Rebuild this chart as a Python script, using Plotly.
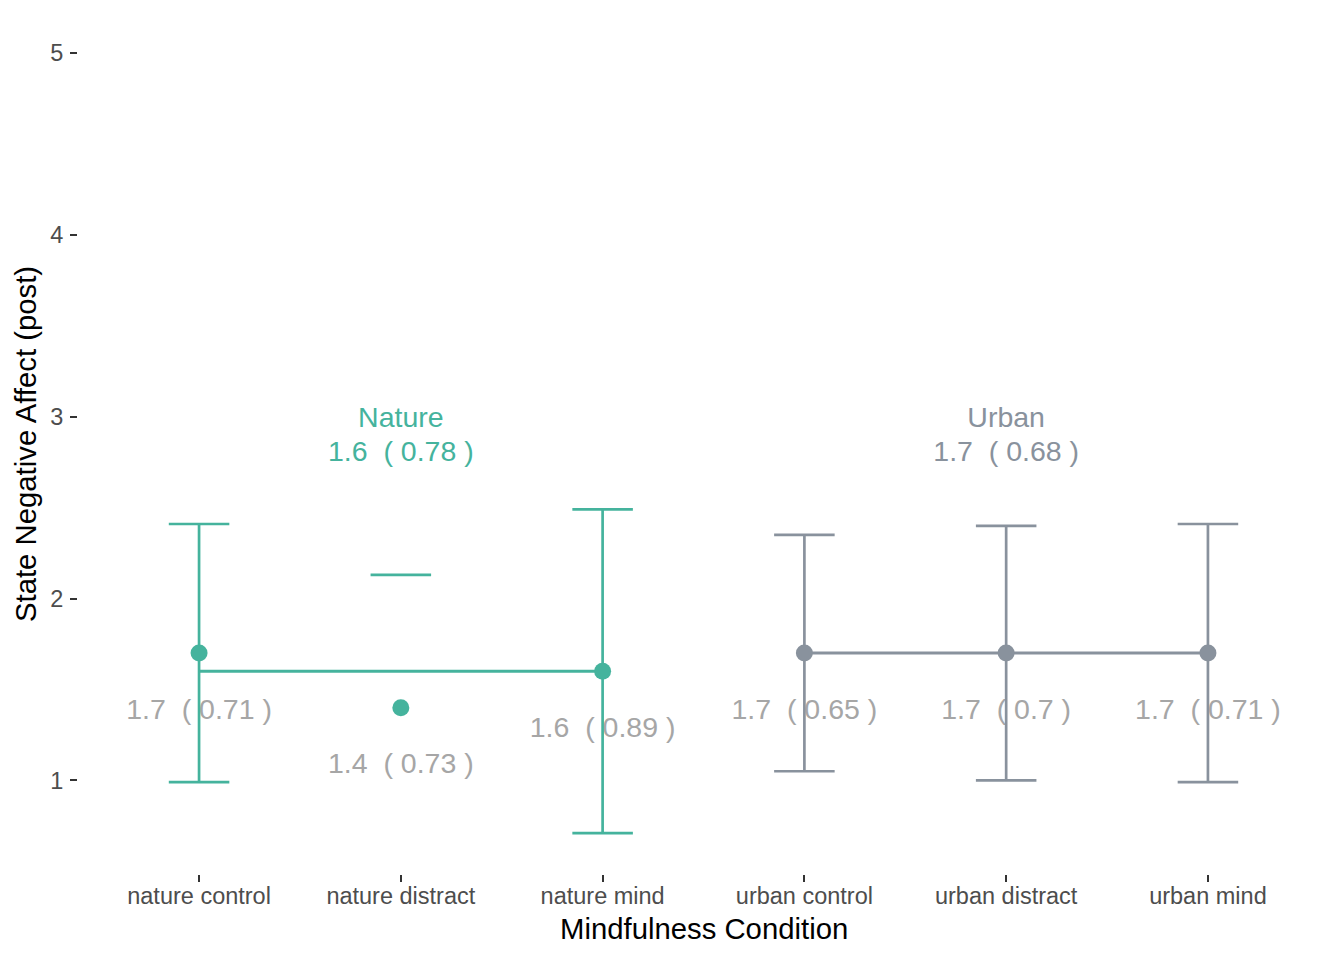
import plotly.graph_objects as go

# ---- data ----
categories = ["nature control", "nature distract", "nature mind",
              "urban control", "urban distract", "urban mind"]
groups = ["Nature", "Nature", "Nature", "Urban", "Urban", "Urban"]
means = [1.7, 1.4, 1.6, 1.7, 1.7, 1.7]
sds = [0.71, 0.73, 0.89, 0.65, 0.70, 0.71]
group_names = ["Nature", "Urban"]
group_means = [1.6, 1.7]
group_sds = [0.78, 0.68]
y_ticks = [1, 2, 3, 4, 5]
y_limits = [0.7, 5.0]

# ---- style ----
colors = {"Nature": "#45B39D", "Urban": "#89929D"}
label_grey = "#A6A6A6"
FONT = "Liberation Sans, Arial, sans-serif"
cap_half = 0.15
label_offset = 0.322

xpos = list(range(len(categories)))
fig = go.Figure()

# per-category labels (drawn beneath lines)
fig.add_trace(go.Scatter(
    x=xpos, y=[m - label_offset for m in means], mode="text",
    text=[f"{m:g}  ( {s:g} )" for m, s in zip(means, sds)],
    textfont=dict(family=FONT, size=28.5, color=label_grey),
    textposition="middle center", hoverinfo="skip", showlegend=False))

for g, gm, gs in zip(group_names, group_means, group_sds):
    idx = [i for i, gg in enumerate(groups) if gg == g]
    col = colors[g]
    # error bars
    ex, ey = [], []
    for i in idx:
        lo, hi = means[i] - sds[i], means[i] + sds[i]
        ex += [i - cap_half, i + cap_half, None]
        ey += [hi, hi, None]
        if lo >= y_limits[0]:
            ex += [i, i, None, i - cap_half, i + cap_half, None]
            ey += [hi, lo, None, lo, lo, None]
    fig.add_trace(go.Scatter(x=ex, y=ey, mode="lines",
                             line=dict(color=col, width=2.7),
                             hoverinfo="skip", showlegend=False))
    # group mean line
    fig.add_trace(go.Scatter(x=[idx[0], idx[-1]], y=[gm, gm], mode="lines",
                             line=dict(color=col, width=3),
                             hoverinfo="skip", showlegend=False))
    # points
    fig.add_trace(go.Scatter(x=idx, y=[means[i] for i in idx], mode="markers",
                             marker=dict(color=col, size=17),
                             hoverinfo="skip", showlegend=False))
    # group labels
    center = idx[len(idx) // 2]
    fig.add_trace(go.Scatter(
        x=[center, center], y=[2.98, 2.795], mode="text",
        text=[g, f"{gm:g}  ( {gs:g} )"],
        textfont=dict(family=FONT, size=28.5, color=col),
        textposition="middle center", hoverinfo="skip", showlegend=False))

fig.update_layout(
    width=1344, height=960,
    margin=dict(l=70, r=23, t=6, b=94.4),
    paper_bgcolor="white", plot_bgcolor="white",
    font=dict(family=FONT),
    xaxis=dict(range=[-0.6, len(categories) - 0.4], tickvals=xpos,
               ticktext=categories, showgrid=False, zeroline=False,
               showline=False, ticks="outside", ticklen=7, tickwidth=2,
               tickcolor="#333333", ticklabelstandoff=-6,
               tickfont=dict(family=FONT, size=23.5, color="#4D4D4D")),
    yaxis=dict(range=[0.485, 5.215], tickvals=y_ticks,
               ticktext=[str(t) for t in y_ticks], showgrid=False,
               zeroline=False, showline=False, ticks="outside", ticklen=7,
               tickwidth=2, tickcolor="#333333", ticklabelstandoff=2,
               tickfont=dict(family=FONT, size=23.5, color="#4D4D4D")),
    annotations=[
        dict(text="Mindfulness Condition", xref="paper", yref="paper",
             x=0.5, y=0, yanchor="middle", yshift=-54.6, showarrow=False,
             font=dict(family=FONT, size=29.3, color="black")),
        dict(text="State Negative Affect (post)", xref="paper", yref="paper",
             x=0, y=0.5, xanchor="center", xshift=-53, textangle=-90,
             showarrow=False,
             font=dict(family=FONT, size=29.3, color="black")),
    ],
)

fig.write_html("out.html")
